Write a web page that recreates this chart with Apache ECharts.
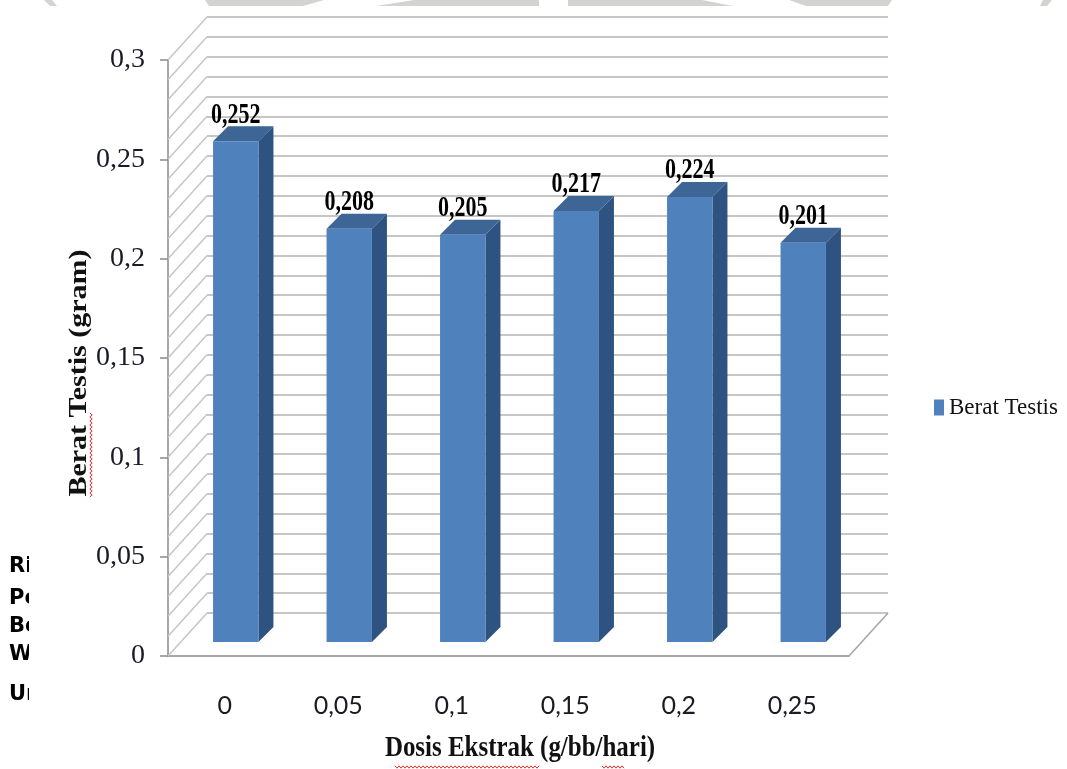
<!DOCTYPE html>
<html><head><meta charset="utf-8">
<script src="https://cdn.jsdelivr.net/npm/echarts@6/dist/echarts.min.js"></script>
<style>html,body{margin:0;padding:0;background:#fff}#c{width:1067px;height:769px}</style>
</head><body><div id="c"></div>
<script>
// ---- data ----
const categories = ['0', '0,05', '0,1', '0,15', '0,2', '0,25'];
const beratTestis = [0.252, 0.208, 0.205, 0.217, 0.224, 0.201];
const seriesName = 'Berat Testis';
const yTitle = 'Berat Testis (gram)';
const xTitle = 'Dosis Ekstrak (g/bb/hari)';
const sideText = ['Ri', 'Pe', 'Be', 'W', 'Un'];

const fmt = v => String(+(+v).toFixed(3)).replace('.', ',');

const chart = echarts.init(document.getElementById('c'), null, {renderer: 'canvas'});

const FRONT = '#4F81BD', SIDE = '#2F5380', TOP = '#3D6595';
const SHIFT_X = 11, SHIFT_Y = 14, DEPTH = 15;
const AXIS = '#8a8a8a', GRID = '#c6c6c6';

chart.setOption({
  animation: false,
  backgroundColor: '#fff',
  grid: [
    {left: 168, right: 218, top: 60, bottom: 113},
    {left: 207, right: 179, top: 17, bottom: 156}
  ],
  xAxis: [
    {type: 'category', data: categories, gridIndex: 0,
     axisLine: {lineStyle: {color: AXIS, width: 1.5}},
     axisTick: {length: 11, lineStyle: {color: AXIS, width: 1.5}},
     axisLabel: {fontFamily: 'Lato', fontSize: 25, color: '#1a1a22', margin: 37}},
    {type: 'category', data: categories, gridIndex: 1, show: false}
  ],
  yAxis: [
    {type: 'value', min: 0, max: 0.3, interval: 0.05, gridIndex: 0,
     axisLine: {show: true, lineStyle: {color: AXIS, width: 1.5}},
     axisTick: {show: true, length: 8, lineStyle: {color: AXIS, width: 1.5}},
     splitLine: {show: false},
     axisLabel: {fontFamily: 'Liberation Serif', fontSize: 28, color: '#1a1a28', margin: 23, formatter: fmt}},
    {type: 'value', min: 0, max: 0.3, interval: 0.01, gridIndex: 1,
     axisLine: {show: false}, axisTick: {show: false}, axisLabel: {show: false},
     splitLine: {show: true, lineStyle: {color: GRID, width: 2}}}
  ],
  legend: {
    data: [{name: seriesName, icon: 'rect'}],
    left: 929, top: 391, itemWidth: 10, itemHeight: 16, selectedMode: false,
    textStyle: {fontFamily: 'Liberation Serif', fontSize: 23, color: '#111'}
  },
  series: [{
    type: 'custom', name: seriesName, xAxisIndex: 0, yAxisIndex: 0, z: 5,
    itemStyle: {color: FRONT},
    data: beratTestis.map((v, i) => [i, v]),
    renderItem: function (params, api) {
      const idx = api.value(0), v = api.value(1);
      const top = api.coord([idx, v]);
      const base = api.coord([idx, 0]);
      const band = api.size([1, 0])[0];
      const w = band * 0.4;
      const x0 = top[0] + SHIFT_X - w / 2, x1 = x0 + w;
      const yT = top[1] - SHIFT_Y, yB = base[1] - SHIFT_Y;
      return {type: 'group', children: [
        {type: 'polygon', shape: {points: [[x1, yT], [x1 + DEPTH, yT - DEPTH], [x1 + DEPTH, yB - DEPTH], [x1, yB]]},
         style: {fill: SIDE}},
        {type: 'polygon', shape: {points: [[x0, yT], [x0 + DEPTH, yT - DEPTH], [x1 + DEPTH, yT - DEPTH], [x1, yT]]},
         style: {fill: TOP}},
        {type: 'rect', shape: {x: x0, y: yT, width: w, height: yB - yT}, style: {fill: FRONT}},
        {type: 'text', x: x0 + w / 2, y: yT - 26, scaleX: 0.76,
         style: {text: fmt(v), fontFamily: 'Liberation Serif', fontWeight: 'bold', fontSize: 29,
                 fill: '#000', align: 'center', verticalAlign: 'middle'}}
      ]};
    }
  }]
});

// ---- 3D walls, decorations ----
const p = (gi, x, v) => chart.convertToPixel({gridIndex: gi}, [x, v]);
const bwF = p(0, 1, 0)[0] - p(0, 0, 0)[0];
const bwB = p(1, 1, 0)[0] - p(1, 0, 0)[0];
const lF = p(0, 0, 0)[0] - bwF / 2, rF = p(0, 5, 0)[0] + bwF / 2;
const lB = p(1, 0, 0)[0] - bwB / 2, rB = p(1, 5, 0)[0] + bwB / 2;
const g = [];
for (let k = 0; k <= 30; k++) {
  const v = k / 100;
  const fy = p(0, 0, v)[1], by = p(1, 0, v)[1];
  g.push({type: 'line', z: 1, shape: {x1: lF, y1: fy, x2: lB, y2: by},
          style: {stroke: GRID, lineWidth: 1.5}});
}
// floor right edge
g.push({type: 'line', z: 1, shape: {x1: rF, y1: p(0, 5, 0)[1], x2: rB, y2: p(1, 5, 0)[1]},
        style: {stroke: '#a5a5a5', lineWidth: 1.5}});

// top grey watermark pieces
const grey = [
  [[44, 0], [52, 0], [57, 6], [50, 6]],
  [[205, 0], [324, 0], [303, 6], [209, 6]],
  [[414, 0], [539, 0], [539, 6], [376, 6]],
  [[568, 0], [702, 0], [733, 6], [568, 6]],
  [[789, 0], [892, 0], [888, 6], [806, 6]],
  [[1043, 0], [1052, 0], [1047, 6], [1040, 6]]
];
grey.forEach(pts => g.push({type: 'polygon', z: 1, shape: {points: pts}, style: {fill: '#d4d3d1'}}));

// cut-off side text
const tops = [556, 588, 616, 644, 684];
sideText.forEach((t, i) => g.push({type: 'text', z: 1, x: 9, y: tops[i],
  style: {text: t, fontFamily: 'DejaVu Sans', fontWeight: 'bold', fontSize: 21, fill: '#000', verticalAlign: 'top'}}));
g.push({type: 'rect', z: 2, shape: {x: 29, y: 548, width: 65, height: 170}, style: {fill: '#fff'}});

// axis titles
g.push({type: 'text', z: 3, x: 79, y: 373, rotation: Math.PI / 2, scaleY: 0.85,
  style: {text: yTitle, fontFamily: 'Liberation Serif', fontWeight: 'bold', fontSize: 30, fill: '#111',
          align: 'center', verticalAlign: 'middle'}});
g.push({type: 'text', z: 3, x: 520, y: 749, scaleX: 0.86,
  style: {text: xTitle, fontFamily: 'Liberation Serif', fontWeight: 'bold', fontSize: 29, fill: '#111',
          align: 'center', verticalAlign: 'middle'}});

// red spell-check squiggles
function zig(x1, y1, x2, y2, vertical) {
  const pts = [];
  const len = vertical ? (y2 - y1) : (x2 - x1);
  for (let s = 0, j = 0; s <= len; s += 2, j++) {
    const o = (j % 2 ? 1.2 : -1.2);
    pts.push(vertical ? [x1 + o, y1 + s] : [x1 + s, y1 + o]);
  }
  return {type: 'polyline', z: 3, shape: {points: pts}, style: {stroke: '#e03030', lineWidth: 1, fill: null}};
}
g.push(zig(91, 413, 91, 497, true));
g.push(zig(395, 767, 540, 767, false));
g.push(zig(602, 767, 624, 767, false));

chart.setOption({graphic: g});
</script>
</body></html>
